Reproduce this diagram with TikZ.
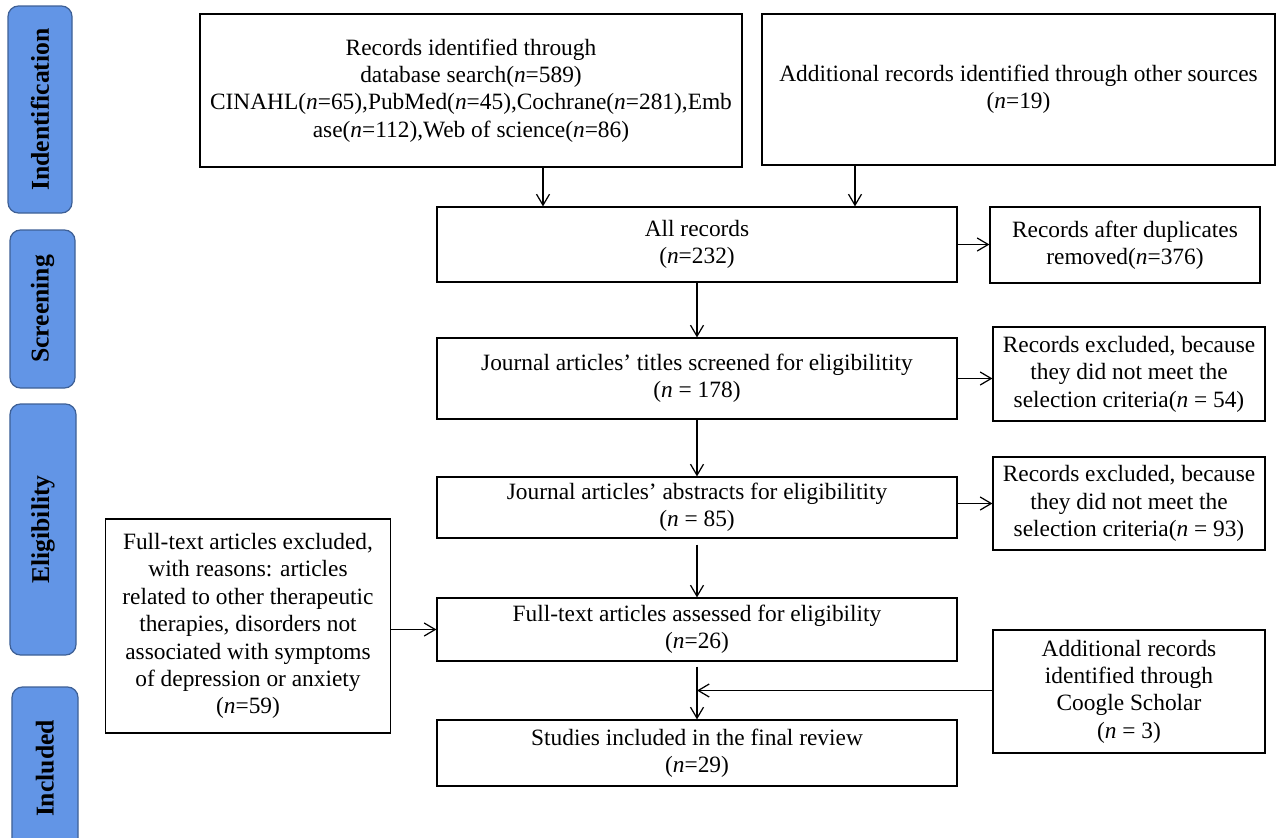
\documentclass[tikz,border=0pt]{standalone}
\usepackage{fontspec}
\setmainfont{Liberation Serif}
\usepackage{tikz}
\usetikzlibrary{arrows.meta, positioning, calc}
\definecolor{stagefill}{RGB}{98,149,230}
\definecolor{stageline}{RGB}{62,96,150}
\newcommand{\nn}{\textit{n}}

\begin{document}
\begin{tikzpicture}[
    box/.style={rectangle, draw, line width=0.7pt, align=center, inner sep=2pt, font=\fontsize{13.3}{15.6}\selectfont},
    stage/.style={rectangle, draw=stageline, fill=stagefill, rounded corners=6pt, line width=0.7pt},
    stagetext/.style={rotate=90, font=\fontsize{14.6}{17}\selectfont\bfseries},
    arr/.style={-{Straight Barb[length=2.2mm, width=2.6mm]}, line width=0.7pt},
]
    \useasboundingbox (0,0) rectangle (25.58,-16.74);
    \clip (0,0) rectangle (25.58,-16.74);
    % stages
    \node[stage, minimum width=1.28cm, minimum height=4.14cm] (sid) at (0.80,-2.19) {};
    \node[stagetext] at (sid) {Indentification};
    \node[stage, minimum width=1.30cm, minimum height=3.16cm] (sscr) at (0.85,-6.18) {};
    \node[stagetext] at (sscr) {Screening};
    \node[stage, minimum width=1.32cm, minimum height=5.02cm] (selig) at (0.86,-10.59) {};
    \node[stagetext] at (selig) {Eligibility};
    \node[stage, minimum width=1.32cm, minimum height=3.26cm] (sinc) at (0.90,-15.37) {};
    \node[stagetext] at (sinc) {Included};

    % boxes
    \node[box, minimum width=10.84cm, minimum height=3.06cm] (db) at (9.42,-1.81) {Records identified through\\database search(\nn=589)\\CINAHL(\nn=65),PubMed(\nn=45),Cochrane(\nn=281),Emb\\ase(\nn=112),Web of science(\nn=86)};
    \node[box, minimum width=10.26cm, minimum height=3.02cm] (other) at (20.37,-1.79) {Additional records identified through other sources\\(\nn=19)};
    \node[box, minimum width=10.4cm, minimum height=1.50cm] (all) at (13.94,-4.89) {All records\\(\nn=232)};
    \node[box, minimum width=5.4cm, minimum height=1.52cm] (dup) at (22.50,-4.90) {Records after duplicates\\removed(\nn=376)};
    \node[box, minimum width=10.4cm, minimum height=1.62cm] (titles) at (13.94,-7.57) {Journal articles' titles screened for eligibilitity\\(\nn{} = 178)};
    \node[box, minimum width=5.44cm, minimum height=1.88cm] (ex54) at (22.58,-7.48) {Records excluded, because\\they did not meet the\\selection criteria(\nn{} = 54)};
    \node[box, minimum width=10.4cm, minimum height=1.22cm] (abs) at (13.94,-10.15) {Journal articles' abstracts for eligibilitity\\(\nn{} = 85)};
    \node[box, minimum width=5.44cm, minimum height=1.86cm] (ex93) at (22.58,-10.07) {Records excluded, because\\they did not meet the\\selection criteria(\nn{} = 93)};
    \node[box, minimum width=5.7cm, minimum height=4.28cm] (ftex) at (4.96,-12.52) {Full-text articles excluded,\\with reasons: articles\\related to other therapeutic\\therapies, disorders not\\associated with symptoms\\of depression or anxiety\\(\nn=59)};
    \node[box, minimum width=10.4cm, minimum height=1.26cm] (ft) at (13.94,-12.59) {Full-text articles assessed for eligibility\\(\nn=26)};
    \node[box, minimum width=10.4cm, minimum height=1.32cm] (inc) at (13.94,-15.06) {Studies included in the final review\\(\nn=29)};
    \node[box, minimum width=5.44cm, minimum height=2.46cm] (coogle) at (22.58,-13.83) {Additional records\\identified through\\Coogle Scholar\\(\nn{} = 3)};

    % arrows
    \draw[arr] ([xshift=1.44cm]db.south) -- ([xshift=1.44cm]db.south |- all.north);
    \draw[arr] ([xshift=-3.27cm]other.south) -- ([xshift=-3.27cm]other.south |- all.north);
    \draw[arr] (all.east) -- (all.east -| dup.west);
    \draw[arr] (all.south) -- (titles.north);
    \draw[arr] (titles.east) -- (titles.east -| ex54.west);
    \draw[arr] (titles.south) -- (abs.north);
    \draw[arr] ([yshift=0.08cm]abs.east) -- ([yshift=0.08cm]abs.east -| ex93.west);
    \draw[arr] ([yshift=-0.12cm]abs.south) -- (ft.north);
    \draw[arr] (ftex.east |- ft.west) -- (ft.west);
    \draw[arr] ([yshift=-0.1cm]ft.south) -- (inc.north);
    \coordinate (join) at ($(ft.south)!0.5!(inc.north)$);
    \draw[arr] (coogle.west |- join) -- (join);
\end{tikzpicture}
\end{document}
